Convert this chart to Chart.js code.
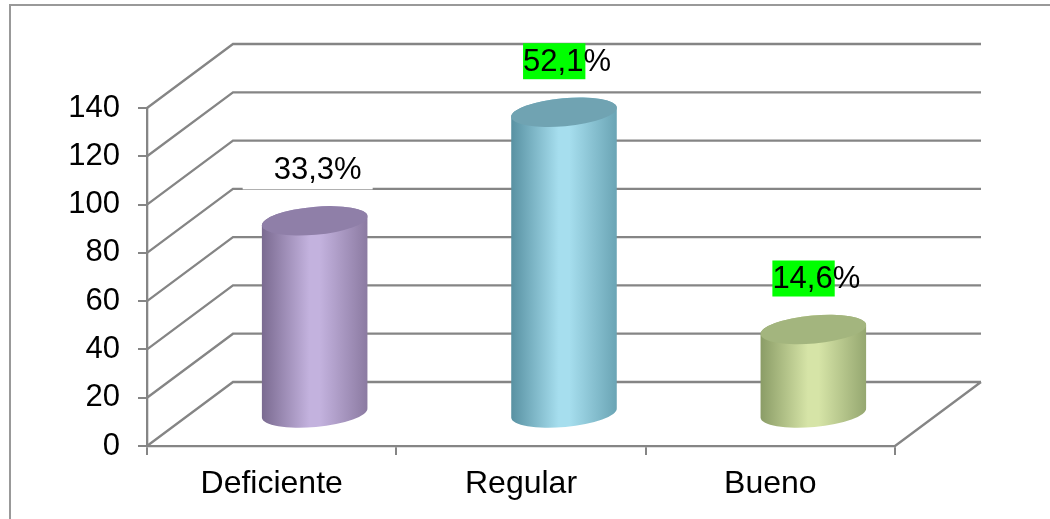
<!DOCTYPE html>
<html>
<head>
<meta charset="utf-8">
<script src="https://cdn.jsdelivr.net/npm/chart.js@4.4.0/dist/chart.umd.min.js"></script>
<style>
  html, body { margin: 0; padding: 0; background: #fff; }
  #wrap { width: 1050px; height: 519px; }
</style>
</head>
<body>
<div id="wrap"><canvas id="chart"></canvas></div>
<script>
// data (n = 240)
const categories = ['Deficiente', 'Regular', 'Bueno'];
const counts = [80, 125, 35];
const percentLabels = ['33,3%', '52,1%', '14,6%'];
const yTicks = [0, 20, 40, 60, 80, 100, 120, 140];

// cylinder colours: left shade, light middle, right shade, top
const cylColors = [
  ['#7a6a90', '#c3b2de', '#8b7aa1', '#8f7fa8'],
  ['#5891a2', '#a6deee', '#6aa4b4', '#70a3b2'],
  ['#8a9c66', '#d6e4a7', '#95a770', '#a3b57e']
];
const depth = { dx: 86, dy: 64 };
const FAMILY = '"Liberation Sans", Arial, sans-serif';
const LINE = '#858585';

// 3d walls: side wall diagonals + back wall grid + right floor edge
const walls3d = {
  id: 'walls3d',
  beforeDatasetsDraw(chart) {
    const { ctx, chartArea: a, scales: { y } } = chart;
    ctx.save();
    ctx.strokeStyle = LINE;
    ctx.lineWidth = 2.3;
    ctx.beginPath();
    yTicks.forEach(v => {
      const py = y.getPixelForValue(v);
      ctx.moveTo(a.left, py);
      ctx.lineTo(a.left + depth.dx, py - depth.dy);
      ctx.lineTo(a.right + depth.dx, py - depth.dy);
    });
    const p0 = y.getPixelForValue(0);
    ctx.moveTo(a.right, p0);
    ctx.lineTo(a.right + depth.dx, p0 - depth.dy);
    ctx.stroke();
    ctx.restore();
  }
};

const cylinders = {
  id: 'cylinders',
  afterDatasetsDraw(chart) {
    const { ctx } = chart;
    const meta = chart.getDatasetMeta(0);
    const tilt = -0.09, ry = 14;
    meta.data.forEach((bar, i) => {
      const c = cylColors[i];
      const cx = bar.x + depth.dx / 2;
      const topY = bar.y - depth.dy / 2;
      const baseY = bar.base - depth.dy / 2;
      const rx = bar.width / 2;
      const g = ctx.createLinearGradient(cx - rx, 0, cx + rx, 0);
      g.addColorStop(0, c[0]);
      g.addColorStop(0.45, c[1]);
      g.addColorStop(0.55, c[1]);
      g.addColorStop(1, c[2]);
      ctx.save();
      ctx.fillStyle = g;
      ctx.beginPath();
      ctx.ellipse(cx, baseY, rx, ry, tilt, 0, Math.PI, false);
      ctx.lineTo(cx - rx * Math.cos(tilt), topY - rx * Math.sin(tilt));
      ctx.ellipse(cx, topY, rx, ry, tilt, Math.PI, 2 * Math.PI, false);
      ctx.closePath();
      ctx.fill();
      // top face
      ctx.fillStyle = c[3];
      ctx.beginPath();
      ctx.ellipse(cx, topY, rx, ry, tilt, 0, 2 * Math.PI);
      ctx.fill();

      // data label
      const lx = cx + 3, ly = topY - 50;
      ctx.font = '31px ' + FAMILY;
      const txt = percentLabels[i];
      const W = ctx.measureText(txt).width;
      const left = lx - W / 2;
      if (i === 0) {
        ctx.fillStyle = '#ffffff';
        ctx.fillRect(cx - 72, ly - 20, 130, 38.5);
      } else {
        const num = txt.replace('%', '');
        const w = ctx.measureText(num).width;
        ctx.fillStyle = '#00ff00';
        ctx.fillRect(left, ly - 19, w + 2, 36);
      }
      ctx.fillStyle = '#000';
      ctx.textAlign = 'left';
      ctx.textBaseline = 'middle';
      ctx.fillText(txt, left, ly);
      ctx.restore();
    });
  }
};

const frame = {
  id: 'frame',
  afterDraw(chart) {
    const { ctx } = chart;
    ctx.save();
    ctx.strokeStyle = '#999999';
    ctx.lineWidth = 2;
    ctx.strokeRect(10, 5, 1100, 600);
    ctx.restore();
  }
};

new Chart(document.getElementById('chart'), {
  type: 'bar',
  data: {
    labels: categories,
    datasets: [{
      data: counts,
      backgroundColor: 'rgba(0,0,0,0)',
      categoryPercentage: 1,
      barPercentage: 0.425
    }]
  },
  options: {
    responsive: true,
    maintainAspectRatio: false,
    animation: false,
    layout: { padding: { top: 108, right: 155, left: 0, bottom: 0 } },
    plugins: { legend: { display: false }, tooltip: { enabled: false } },
    scales: {
      x: {
        afterFit(s) { s.height = 73; },
        grid: { drawOnChartArea: false, drawTicks: true, tickLength: 9, color: LINE, lineWidth: 2 },
        border: { display: true, color: LINE, width: 2.3 },
        ticks: { color: '#000', font: { size: 32, family: FAMILY }, padding: 10 }
      },
      y: {
        min: 0,
        max: 140,
        afterFit(s) { s.width = 147; },
        afterBuildTicks(s) { s.ticks = yTicks.map(v => ({ value: v })); },
        grid: { drawOnChartArea: false, drawTicks: true, tickLength: 9, color: LINE, lineWidth: 2 },
        border: { display: true, color: LINE, width: 2.3 },
        ticks: { color: '#000', font: { size: 31, family: FAMILY }, padding: 18 }
      }
    }
  },
  plugins: [walls3d, cylinders, frame]
});
</script>
</body>
</html>
